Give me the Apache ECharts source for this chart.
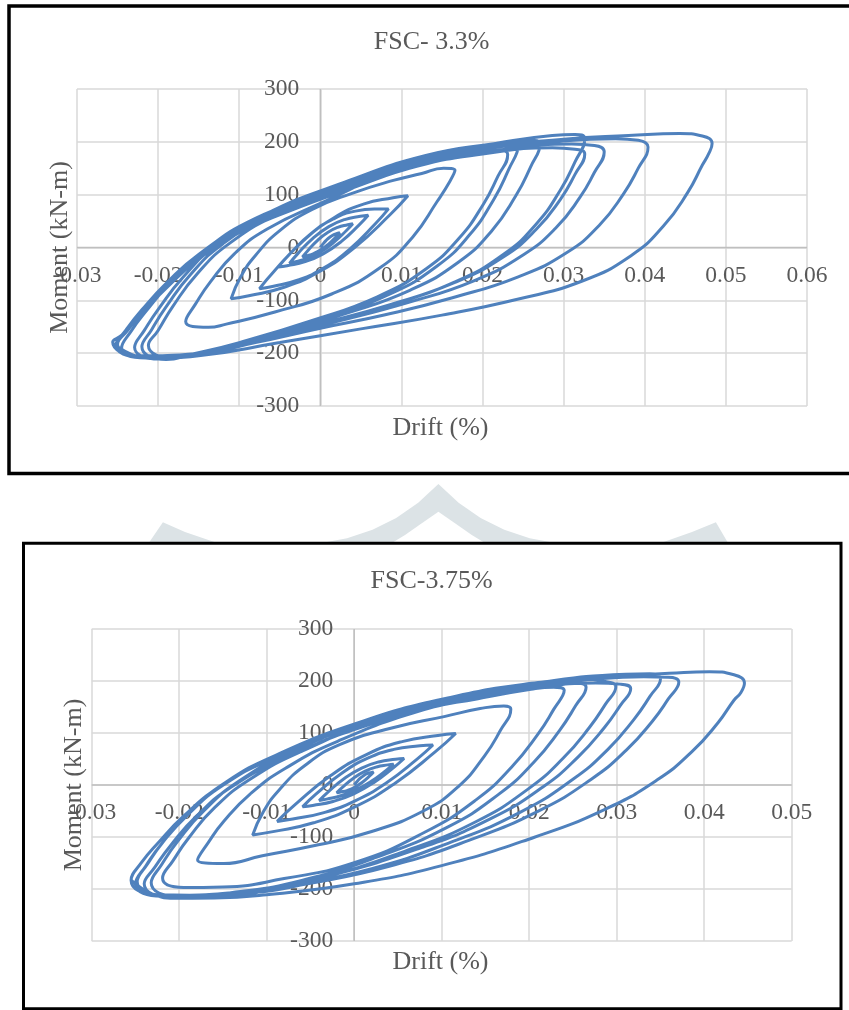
<!DOCTYPE html>
<html>
<head>
<meta charset="utf-8">
<title>FSC moment - drift</title>
<script src="https://cdn.jsdelivr.net/npm/echarts@6/dist/echarts.min.js"></script>
<style>
html,body{margin:0;padding:0;background:#fff;}
#main{width:849px;height:1010px;}
</style>
</head>
<body>
<div id="main"></div>
<script>
/*axis ticks*/
var xTicks33 = [-0.03, -0.02, -0.01, 0, 0.01, 0.02, 0.03, 0.04, 0.05, 0.06];
var xTicks375 = [-0.03, -0.02, -0.01, 0, 0.01, 0.02, 0.03, 0.04, 0.05];
var yTicks = [-300, -200, -100, 0, 100, 200, 300];

/*FSC- 3.3% : one array per cycle, [drift, moment]*/
var c33_1 = [[0,0],[0.00024,4.9],[0.00072,13.5],[0.0012,20],[0.00168,24.4],[0.00216,27],[0.0024,28],
  [0.00194,20.25],[0.00102,6.55],[0.0001,-4],[-0.00082,-11.4],[-0.00174,-16.1],[-0.0022,-18]];
var c33_2 = [[-0.00158,-6.45],[-0.00034,13.65],[0.0009,28.5],[0.00214,38.1],[0.00338,43.2],[0.004,45],
  [0.00322,32.25],[0.00166,9.75],[0.0001,-7.5],[-0.00146,-19.5],[-0.00302,-27],[-0.0038,-30]];
var c33_3 = [[-0.00283,-12.5],[-0.00089,17.7],[0.00105,39.5],[0.00299,52.9],[0.00493,59.1],[0.0059,61],
  [0.00479,42.8],[0.00257,11.2],[0.00035,-12],[-0.00187,-26.8],[-0.00409,-34.4],[-0.0052,-37]];
var c33_4 = [[-0.00384,-13.4],[-0.00112,26.6],[0.0016,54],[0.00432,68.8],[0.00704,72.8],[0.0084,73],
  [0.00681,45.3],[0.00363,-2.9],[0.00045,-38.5],[-0.00273,-61.5],[-0.00591,-73.7],[-0.0075,-78]];
var c33_5 = [[-0.00567,-44.3],[-0.00201,13.9],[0.00165,56],[0.00531,82],[0.00897,94.2],[0.0108,98],
  [0.00862,62.4],[0.00426,0.4],[-0.0001,-45.5],[-0.00446,-75.3],[-0.00882,-91.3],[-0.011,-97]];
var c33_6 = [[-0.0098,-55],[-0.008,-15],[-0.005,32],[-0.001,72],[0.004,103],[0.009,127],[0.0125,140],[0.0152,150],[0.0166,146],
  [0.016,126],[0.0144,87],[0.0114,20],[0.0074,-38],[0.0014,-88],[-0.0056,-122],[-0.0116,-145],[-0.0138,-151],[-0.0166,-140]];
var c33_7 = [[-0.0154,-107.2],[-0.0136,-66],[-0.0106,-11.9],[-0.0066,34.6],[0,83.4],[0.01,149.5],[0.0195,182],[0.0222,184],[0.0231,176],
  [0.0219,135],[0.0201,82],[0.0171,17.5],[0.0131,-39.6],[0.0071,-92.8],[-0.0009,-137.6],[-0.01,-180],[-0.016,-202.6],[-0.0182,-209.5],[-0.0212,-185]];
var c33_8 = [[-0.02,-157],[-0.0182,-111.8],[-0.0152,-50.2],[-0.0112,7.8],[-0.005,64.3],[0.005,129],[0.0144,171],[0.0205,192],[0.0232,198],[0.0244,192],
  [0.0232,147],[0.0214,91.5],[0.0184,24],[0.0144,-35],[0.0084,-89.3],[0.0004,-134],[-0.01,-181.3],[-0.016,-203],[-0.019,-212],[-0.022,-188]];
var c33_9 = [[-0.0208,-155.6],[-0.019,-112.1],[-0.016,-51],[-0.012,7.2],[-0.006,63.4],[0.004,127],[0.014,174],[0.0231,200],[0.0259,203],[0.0271,196],
  [0.0259,151.8],[0.0241,97.8],[0.0211,30.9],[0.0171,-27.1],[0.0111,-80.5],[0.0031,-125],[-0.006,-166.3],[-0.014,-196.3],[-0.0199,-211],[-0.0229,-189]];
var c33_10 = [[-0.0217,-156.9],[-0.0199,-115],[-0.0169,-55.7],[-0.0129,3.9],[-0.0069,62],[0.003,123.8],[0.013,174],[0.0216,197],[0.0286,212],[0.0314,214],[0.0326,206],
  [0.0314,162],[0.0296,108.7],[0.0266,44.2],[0.0226,-12.8],[0.0166,-65.2],[0.0086,-108.6],[0,-145],[-0.008,-175.7],[-0.015,-200.6],[-0.022,-208],[-0.025,-183]];
var c33_11 = [[-0.0238,-157.6],[-0.022,-124],[-0.019,-77],[-0.015,-22],[-0.01,28],[-0.004,68],[0.004,113],[0.012,154],[0.02,177],[0.0286,189],[0.0314,186],[0.0326,177],
  [0.0314,138.4],[0.0296,91.3],[0.0266,34],[0.0226,-17.5],[0.0166,-66],[0.0086,-108],[0,-144],[-0.008,-175],[-0.015,-200.4],[-0.0226,-205],[-0.0256,-179]];
var c33_12 = [[-0.0244,-164.8],[-0.0226,-130.8],[-0.0196,-82],[-0.0156,-25.2],[-0.01,32],[-0.002,82],[0.006,129],[0.014,164],[0.022,184.6],[0.031,196],[0.0338,193],[0.035,181],
  [0.0338,142.4],[0.032,94.8],[0.029,36.4],[0.025,-14.2],[0.019,-62.6],[0.011,-103.4],[0.002,-140.2],[-0.007,-173.2],[-0.015,-201],[-0.0222,-207],[-0.0252,-185]];
var c33_13 = [[-0.024,-157],[-0.022,-118],[-0.019,-68],[-0.015,-13],[-0.009,44.3],[0,97],[0.01,154.5],[0.02,186],[0.03,202],[0.0364,206],[0.0392,203],[0.0404,190],
  [0.0392,150.2],[0.0374,102],[0.0344,42.2],[0.0304,-9.5],[0.0244,-55.4],[0.0164,-94.6],[0.008,-127.3],[0,-152.7],[-0.008,-180.1],[-0.015,-202.2],[-0.0215,-209],[-0.0245,-190]];
var c33_14 = [[-0.0233,-157.8],[-0.0215,-121],[-0.0185,-66.8],[-0.0145,-8.2],[-0.008,55],[0,100],[0.01,157.5],[0.02,189],[0.03,205],[0.038,212],[0.0443,216],[0.0471,211],[0.0483,197],
  [0.0479,178],[0.0471,156],[0.0453,104.3],[0.0423,40.6],[0.0383,-15.4],[0.0323,-63.4],[0.0243,-98],[0.015,-128],[0.005,-154],[-0.005,-180],[-0.015,-205],[-0.021,-210],[-0.0255,-182]];

/*FSC-3.75% : one array per cycle, [drift, moment]*/
var c375_1 = [[0,0],[0.00022,4.6],[0.00066,12.6],[0.0011,18.5],[0.00154,22.3],[0.00198,24.3],[0.0022,25],
  [0.0018,17.85],[0.00094,5.35],[0.0001,-4],[-0.00074,-10.2],[-0.00158,-13.7],[-0.002,-15]];
var c375_2 = [[-0.00135,-4.6],[-0.00005,13.4],[0.00125,26.5],[0.00255,34.7],[0.00385,38.7],[0.0045,40],
  [0.00365,28.1],[0.00195,7.1],[0.00025,-9],[-0.00145,-20.2],[-0.00315,-27.2],[-0.004,-30]];
var c375_3 = [[-0.00303,-14.2],[-0.00109,13],[0.00085,32.5],[0.00279,44.3],[0.00473,49.5],[0.0057,51],
  [0.00454,34],[0.00222,4.4],[-0.0001,-17.5],[-0.00242,-31.7],[-0.00474,-39.3],[-0.0059,-42]];
var c375_4 = [[-0.00441,-18.2],[-0.00143,22.6],[0.00155,51.5],[0.00453,68.5],[0.00751,75.3],[0.009,77],
  [0.00722,50.4],[0.00366,4],[0.0001,-30.5],[-0.00346,-53.1],[-0.00702,-65.5],[-0.0088,-70]];
var c375_5 = [[-0.00676,-37.7],[-0.00268,18.1],[0.0014,58.5],[0.00548,83.5],[0.00956,95.3],[0.0116,99],
  [0.00928,64.1],[0.00464,3.1],[0,-42.5],[-0.00464,-72.7],[-0.00928,-89.7],[-0.0116,-96]];
var c375_6 = [[-0.0104,-52],[-0.0086,-10],[-0.0056,38],[-0.0016,78],[0.0044,110],[0.0104,132],[0.0144,147],[0.0171,152],[0.0179,146],
  [0.0167,104.7],[0.0149,56],[0.0119,-3],[0.0079,-50],[0.0019,-90],[-0.0041,-115],[-0.0105,-136],[-0.0149,-151],[-0.0179,-144]];
var c375_7 = [[-0.0167,-111.3],[-0.0149,-69.7],[-0.0119,-17.4],[-0.0079,31.6],[-0.0019,84],[0.008,145],[0.014,165.5],[0.0202,184],[0.0228,188],[0.024,182],
  [0.0228,145.4],[0.021,97.8],[0.018,34.6],[0.014,-27.6],[0.008,-91.4],[0,-149.5],[-0.008,-180],[-0.015,-196],[-0.0195,-197],[-0.0219,-179]];
var c375_8 = [[-0.0207,-145.5],[-0.0189,-101.5],[-0.0159,-42.7],[-0.0119,11.1],[-0.0059,65.7],[0.004,132],[0.014,170.5],[0.0225,194],[0.0253,196],[0.0265,188],
  [0.0253,152.3],[0.0235,105.7],[0.0205,43.3],[0.0165,-18.1],[0.0105,-82.4],[0.0025,-139.2],[-0.006,-183.4],[-0.013,-204.8],[-0.0202,-214],[-0.0232,-188]];
var c375_9 = [[-0.022,-152.8],[-0.0202,-109],[-0.0172,-49.8],[-0.0132,7],[-0.0072,62.9],[0.003,131.3],[0.013,172.3],[0.021,194],[0.0259,203],[0.0287,199],[0.0299,189],
  [0.0287,155.1],[0.0269,111],[0.0239,51.9],[0.0199,-7.5],[0.0139,-70.7],[0.0059,-126.7],[-0.004,-178.8],[-0.012,-203.4],[-0.021,-216],[-0.024,-190]];
var c375_10 = [[-0.0228,-158.6],[-0.021,-116.7],[-0.018,-59.5],[-0.014,-3.5],[-0.008,51],[0.002,117.5],[0.012,161],[0.02,184],[0.0276,196],[0.0304,194],[0.0316,185],
  [0.0304,152.8],[0.0286,110.6],[0.0256,54.2],[0.0216,-3.3],[0.0156,-64.8],[0.0076,-120.9],[-0.004,-179.6],[-0.012,-203.8],[-0.0218,-212],[-0.0248,-186]];
var c375_11 = [[-0.0236,-151.4],[-0.0218,-108.6],[-0.0188,-52.3],[-0.0148,4],[-0.0088,58.5],[0.001,122.8],[0.011,168.5],[0.021,197],[0.031,213],[0.0338,214],[0.035,204],
  [0.0338,170.4],[0.032,126.8],[0.029,68.6],[0.025,11],[0.019,-52.1],[0.011,-110.2],[0.002,-160.8],[-0.007,-192],[-0.015,-212],[-0.0225,-211],[-0.0255,-183]];
var c375_12 = [[-0.0243,-149],[-0.0225,-113],[-0.0195,-60],[-0.0155,-5],[-0.0095,49.7],[0,112],[0.01,160],[0.02,190],[0.027,202.8],[0.0331,208],[0.0359,207],[0.0371,198],
  [0.0359,165.5],[0.0341,123.2],[0.0311,67],[0.0271,11.2],[0.0211,-49.6],[0.0131,-106.6],[0.004,-156.4],[-0.005,-189],[-0.013,-209],[-0.022,-214],[-0.025,-190]];
var c375_13 = [[-0.0238,-155.2],[-0.022,-112.8],[-0.019,-57.1],[-0.015,-0.6],[-0.009,54.2],[0,114],[0.01,162],[0.02,192],[0.03,209],[0.036,214.8],[0.0406,218],[0.0434,212],[0.0446,196],
  [0.0442,178],[0.0434,163],[0.0416,120.3],[0.0386,64.1],[0.0346,9.5],[0.0286,-47.2],[0.0206,-100.4],[0.01,-155],[0,-190],[-0.01,-211],[-0.016,-217.4],[-0.021,-218],[-0.0255,-183]];

var fsc33 = [].concat(c33_1, c33_2, c33_3, c33_4, c33_5, c33_6, c33_7, c33_8, c33_9, c33_10, c33_11, c33_12, c33_13, c33_14);
var fsc375 = [].concat(c375_1, c375_2, c375_3, c375_4, c375_5, c375_6, c375_7, c375_8, c375_9, c375_10, c375_11, c375_12, c375_13);

var grey = '#595959';
var serif = 'Liberation Serif';
var mark = '#dce3e6';

function xAxisOf(grid, ticks){
	return {
		type: 'value', gridIndex: grid,
		min: ticks[0], max: ticks[ticks.length - 1], interval: 0.01,
		axisLine: {show: false, onZero: false},
		axisTick: {show: false},
		axisLabel: {show: false},
		splitLine: {show: true, lineStyle: {color: '#d9d9d9', width: 1.5}}
	};
}
function yAxisOf(grid){
	return {
		type: 'value', gridIndex: grid,
		min: yTicks[0], max: yTicks[yTicks.length - 1], interval: 100,
		axisLine: {show: false, onZero: false},
		axisTick: {show: false},
		axisLabel: {show: false},
		splitLine: {show: true, lineStyle: {color: '#d9d9d9', width: 1.5}}
	};
}
function loopSeries(grid, data){
	return {
		type: 'line', xAxisIndex: grid, yAxisIndex: grid,
		data: data, symbol: 'none', showSymbol: false, smooth: 0.5,
		lineStyle: {color: '#4f81bd', width: 3},
		silent: true, z: 3
	};
}
function label(text, x, y, size, rot, align, z){
	return {
		type: 'text', x: x, y: y, rotation: rot || 0, z: z || 10,
		style: {text: text, fill: grey, font: size + 'px "' + serif + '"', align: align || 'center', verticalAlign: 'middle'}
	};
}

var myChart = echarts.init(document.getElementById('main'));
var option = {
	animation: false,
	backgroundColor: '#fff',
	grid: [
		{left: 77, top: 89, width: 730, height: 317},
		{left: 91.7, top: 629, width: 700, height: 312}
	],
	xAxis: [xAxisOf(0, xTicks33), xAxisOf(1, xTicks375)],
	yAxis: [yAxisOf(0), yAxisOf(1)],
	series: [loopSeries(0, fsc33), loopSeries(1, fsc375)]
};
myChart.setOption(option);

/*axes cross at zero: draw axis lines and tick labels there*/
var deco = [];
function zeroAxes(grid, ticks){
	var o = myChart.convertToPixel({gridIndex: grid}, [0, 0]);
	var lo = myChart.convertToPixel({gridIndex: grid}, [ticks[0], yTicks[0]]);
	var hi = myChart.convertToPixel({gridIndex: grid}, [ticks[ticks.length - 1], yTicks[yTicks.length - 1]]);
	deco.push({type: 'line', z: 1, shape: {x1: lo[0], y1: o[1], x2: hi[0], y2: o[1]}, style: {stroke: '#bfbfbf', lineWidth: 1.5}});
	deco.push({type: 'line', z: 1, shape: {x1: o[0], y1: lo[1], x2: o[0], y2: hi[1]}, style: {stroke: '#bfbfbf', lineWidth: 1.5}});
	ticks.forEach(function(v){
		var p = myChart.convertToPixel({gridIndex: grid}, [v, 0]);
		deco.push(label(String(+v.toFixed(2)), p[0], o[1] + 28, 23.5, 0, 'center', 1));
	});
	yTicks.forEach(function(v){
		var p = myChart.convertToPixel({gridIndex: grid}, [0, v]);
		deco.push(label(String(v), o[0] - 21, p[1], 23.5, 0, 'right', 1));
	});
}
zeroAxes(0, xTicks33);
zeroAxes(1, xTicks375);

/*watermark between the two panels*/
deco.push({type: 'polygon', z: 1, shape: {points: [[162.9,522.3],[148.6,543.3],[218,543.3],[185,532]]}, style: {fill: mark}});
deco.push({type: 'polygon', z: 1, shape: {points: [[715.9,522.3],[728.2,543.3],[660,543.3],[692,532]]}, style: {fill: mark}});
deco.push({type: 'polygon', z: 1, shape: {points: [[320,543.3],[347.1,538.3],[372.5,529.8],[396.2,517.9],[418.2,502.7],[438.4,484],
	[458.6,502.7],[480.6,517.9],[504.3,529.8],[529.7,538.3],[556.8,543.3],[485.4,543.3],[471.8,535],[456.8,524.5],[438.4,511.7],
	[420,524.5],[405,535],[391.4,543.3]]}, style: {fill: mark}});
/*frames*/
deco.push({type: 'rect', z: 10, shape: {x: 9, y: 6, width: 900, height: 467.5}, style: {fill: 'transparent', stroke: '#000', lineWidth: 3.5}});
deco.push({type: 'rect', z: 10, shape: {x: 23.5, y: 543.3, width: 817.5, height: 465.5}, style: {fill: 'transparent', stroke: '#000', lineWidth: 3}});
/*titles and axis names*/
deco.push(label('FSC- 3.3%', 431.5, 42, 26));
deco.push(label('Drift (%)', 440.5, 428, 26));
deco.push(label('Moment (kN-m)', 60, 247.5, 26, Math.PI / 2));
deco.push(label('FSC-3.75%', 431.5, 581.5, 26));
deco.push(label('Drift (%)', 440.5, 962, 26));
deco.push(label('Moment (kN-m)', 74, 785, 26, Math.PI / 2));

myChart.setOption({graphic: deco});
</script>
</body>
</html>
